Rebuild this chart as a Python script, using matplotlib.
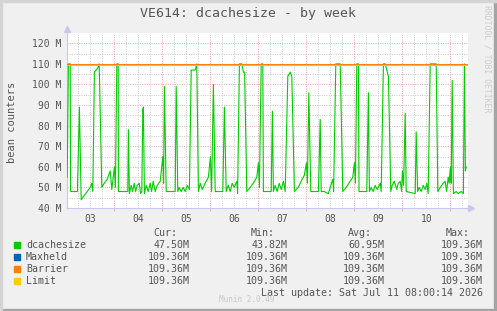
import matplotlib
matplotlib.use("Agg")
import matplotlib.pyplot as plt
from matplotlib.patches import Rectangle
from matplotlib.ticker import MultipleLocator, FuncFormatter

# hours since Jul 03 00:00
hours = [0.4, 1.0, 1.9, 2.1, 5.5, 6.5, 7.4, 8.9, 10.4, 11.9, 12.7, 13.2, 14.0, 14.9, 15.7,
         16.4, 17.7, 18.9, 20.4, 21.9, 22.7, 23.4, 24.0, 24.5, 25.2, 25.9, 26.0, 30.7, 31.0,
         31.5, 32.4, 33.1, 33.9, 34.6, 35.4, 36.4, 37.1, 37.7, 38.2, 38.5, 39.0, 39.9, 40.9,
         41.9, 42.6, 43.4, 44.4, 45.4, 46.9, 48.2, 48.6, 49.0, 49.9, 54.4, 54.9, 55.7, 56.4,
         57.4, 58.4, 59.4, 60.4, 61.5, 62.4, 64.4, 65.2, 66.0, 66.9, 67.9, 68.9, 69.9, 71.0,
         72.0, 72.6, 73.5, 74.4, 78.2, 79.0, 79.9, 80.9, 81.9, 82.9, 83.9, 85.2, 85.6, 86.5,
         87.7, 88.5, 89.1, 90.2, 91.9, 93.4, 95.2, 96.0, 96.5, 97.4, 98.2, 98.5, 102.4, 103.0,
         103.5, 104.4, 105.4, 106.4, 107.4, 108.5, 109.4, 110.7, 111.9, 112.7, 114.0, 115.9,
         117.9, 119.0, 120.0, 120.5, 121.2, 122.2, 126.0, 126.9, 127.4, 128.9, 131.0, 131.9,
         133.2, 133.6, 134.7, 136.9, 138.2, 139.9, 141.9, 143.2, 144.0, 144.5, 145.2, 146.0,
         146.3, 150.2, 151.0, 151.5, 152.4, 153.4, 154.4, 155.4, 156.9, 157.4, 158.5, 159.4,
         161.0, 162.2, 162.9, 163.9, 165.2, 165.9, 166.9, 167.6, 168.0, 168.6, 169.4, 169.9,
         174.4, 174.9, 175.6, 176.4, 177.4, 178.4, 179.4, 180.2, 180.9, 181.9, 184.9, 185.7,
         186.9, 188.4, 189.4, 190.1, 190.9, 191.4, 192.0, 192.4, 192.9, 193.5, 194.9, 195.9,
         197.4, 198.5, 199.0, 199.5, 199.9]
dcachesize = [55, 110, 110, 48, 48, 89, 44, 46, 48, 50, 52, 48, 106, 107, 108,
              110, 50, 52, 54, 58, 49, 55, 60, 50, 110, 110, 48, 48, 78,
              47, 51, 48, 52, 48, 51, 52, 47, 48, 88, 89, 47, 51, 48,
              52, 48, 53, 48, 51, 53, 65, 52, 99, 48, 48, 99, 48, 50,
              48, 50, 48, 51, 49, 107, 107, 110, 48, 52, 49, 51, 53, 55,
              65, 48, 100, 48, 48, 89, 48, 51, 48, 52, 50, 53, 47, 110,
              110, 106, 106, 48, 50, 52, 55, 62, 50, 110, 110, 48, 48, 87,
              48, 51, 48, 52, 49, 53, 48, 104, 106, 104, 48, 50,
              54, 56, 62, 52, 96, 48, 48, 83, 48, 48, 47, 50,
              54, 48, 110, 110, 48, 50, 53, 55, 62, 52, 110, 110,
              48, 48, 96, 48, 50, 48, 51, 49, 52, 48, 110, 110,
              104, 48, 51, 53, 49, 52, 53, 48, 58, 51, 86, 48,
              47, 77, 48, 50, 48, 51, 49, 52, 47, 110, 110, 48,
              50, 52, 53, 48, 55, 52, 60, 52, 102, 47, 48, 47,
              48, 47, 110, 58, 60]
limit_value = 109.36

day_labels = ["03", "04", "05", "06", "07", "08", "09", "10"]
legend_names = ["dcachesize", "Maxheld", "Barrier", "Limit"]
legend_colors = ["#00cc00", "#0066b3", "#ff8000", "#ffcc00"]
cur_vals = ["47.50M", "109.36M", "109.36M", "109.36M"]
min_vals = ["43.82M", "109.36M", "109.36M", "109.36M"]
avg_vals = ["60.95M", "109.36M", "109.36M", "109.36M"]
max_vals = ["109.36M", "109.36M", "109.36M", "109.36M"]

W, H = 497, 311
mono = "DejaVu Sans Mono"
txtc = "#555555"

fig = plt.figure(figsize=(W / 100, H / 100), dpi=100, facecolor="#f0f0f0")

# 3d-ish border
fig.patches.append(Rectangle((0, 0), 1, 2 / H, transform=fig.transFigure, color="#a4a4a4", zorder=0))
fig.patches.append(Rectangle((1 - 3 / W, 0), 3 / W, 1, transform=fig.transFigure, color="#a4a4a4", zorder=0))
fig.patches.append(Rectangle((0, 1 - 2 / H), 1, 2 / H, transform=fig.transFigure, color="#d4d4d4", zorder=0))
fig.patches.append(Rectangle((0, 0), 2 / W, 1, transform=fig.transFigure, color="#d4d4d4", zorder=0))

x0, x1, ytop, ybot = 67, 468, 33, 208
ax = fig.add_axes([x0 / W, 1 - ybot / H, (x1 - x0) / W, (ybot - ytop) / H])
ax.set_facecolor("white")
ax.set_xlim(0.3, 200.8)
ax.set_ylim(40, 125)

dots = (0, (1, 1.4))
for v in range(45, 125, 5):
    c = "#e8a8a8" if v % 10 == 0 else "#c8c8c8"
    ax.axhline(v, color=c, lw=0.7, ls=dots, zorder=1)
for h in range(6, 201, 6):
    c = "#f0a0a0" if h % 24 == 0 else "#c8c8c8"
    ax.axvline(h, color=c, lw=0.7, ls=dots, zorder=1)

ax.plot(hours, dcachesize, color=legend_colors[0], lw=0.8, zorder=3)
ax.axhline(limit_value, color=legend_colors[1], lw=0.8, zorder=4)
ax.axhline(limit_value, color=legend_colors[2], lw=1.4, zorder=5)
ax.axhline(limit_value, color=legend_colors[3], lw=0.6, zorder=6)

for s in ["top", "right"]:
    ax.spines[s].set_visible(False)
for s in ["left", "bottom"]:
    ax.spines[s].set_color("#c8c8ee")
    ax.spines[s].set_linewidth(0.8)
ax.plot([0.3], [127], marker="^", color="#c8c8ee", ms=4, clip_on=False, zorder=7)
ax.plot([202.5], [40], marker=">", color="#c8c8ee", ms=4, clip_on=False, zorder=7)

ax.yaxis.set_major_locator(MultipleLocator(10))
ax.yaxis.set_major_formatter(FuncFormatter(lambda v, p: f"{v:.0f} M"))
ax.set_xticks([12 + 24 * i for i in range(len(day_labels))])
ax.set_xticklabels(day_labels)
ax.set_xticks(range(24, 200, 24), minor=True)
ax.tick_params(axis="both", which="major", length=0, labelsize=7, labelcolor=txtc, pad=4)
ax.tick_params(axis="x", which="minor", length=2, color="#f0a0a0", direction="out")
for lab in ax.get_xticklabels() + ax.get_yticklabels():
    lab.set_family(mono)

fig.text(248 / W, 1 - 14 / H, "VE614: dcachesize - by week", ha="center", va="center",
         family=mono, fontsize=9.5, color=txtc)
fig.text(12 / W, 1 - 122 / H, "bean counters", rotation=90, ha="center", va="center",
         family=mono, fontsize=7.5, color=txtc)
fig.text(487 / W, 1 - 5 / H, "RRDTOOL / TOBI OETIKER", rotation=-90, ha="center", va="top",
         family=mono, fontsize=5.9, color="#cccccc")

# legend block
for hx, ht in zip([177, 275, 372, 470], ["Cur:", "Min:", "Avg:", "Max:"]):
    fig.text(hx / W, 1 - 233 / H, ht, ha="right", va="center", family=mono, fontsize=7.2, color=txtc)
cols = [190, 287.5, 384.5, 482.5]
for i, name in enumerate(legend_names):
    yy = 245 + 12 * i
    fig.patches.append(Rectangle((14 / W, 1 - (yy + 3) / H), 6 / W, 6 / H, transform=fig.transFigure,
                                 color=legend_colors[i], zorder=2))
    fig.text(26 / W, 1 - yy / H, name, ha="left", va="center", family=mono, fontsize=7.2, color=txtc)
    for cx, vals in zip(cols, [cur_vals, min_vals, avg_vals, max_vals]):
        fig.text(cx / W, 1 - yy / H, vals[i], ha="right", va="center", family=mono, fontsize=7.2, color=txtc)

fig.text(483 / W, 1 - 293 / H, "Last update: Sat Jul 11 08:00:14 2026", ha="right", va="center",
         family=mono, fontsize=7.2, color=txtc)
fig.text(247 / W, 1 - 300 / H, "Munin 2.0.49", ha="center", va="center",
         family=mono, fontsize=5.5, color="#c8c8c8")

fig.savefig("out.png", dpi=100, facecolor=fig.get_facecolor())
